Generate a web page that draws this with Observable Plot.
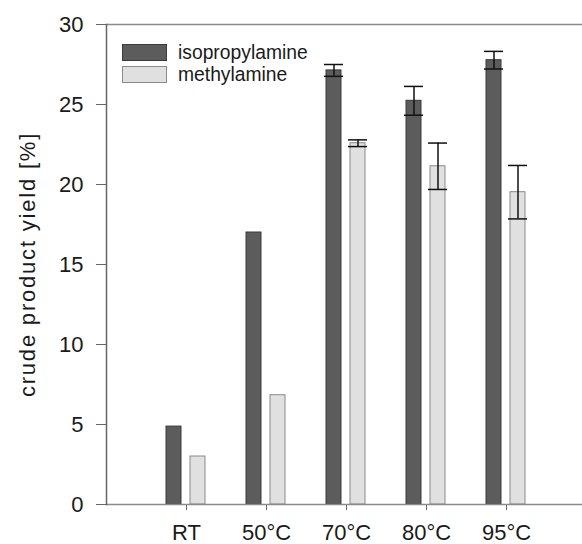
<!DOCTYPE html>
<html><head><meta charset="utf-8">
<script src="https://cdn.jsdelivr.net/npm/d3@7"></script>
<script src="https://cdn.jsdelivr.net/npm/@observablehq/plot@0.6"></script>
<style>
body{margin:0;background:#fff;font-family:"Liberation Sans",Arial,sans-serif;}
#wrap{position:relative;width:582px;height:544px;overflow:hidden;}
.legend{position:absolute;left:122px;top:42px;font-size:19.3px;color:#1a1a1a;line-height:1;}
.row{display:flex;align-items:center;height:21.7px;}
.sw{width:43px;height:15px;border:1px solid #555;margin-right:11px;box-sizing:content-box;}
</style></head><body><div id="wrap"></div>
<script>
const categories = ["RT", "50°C", "70°C", "80°C", "95°C"];
const seriesNames = ["isopropylamine", "methylamine"];
const isoValues = [4.87, 17.0, 27.13, 25.23, 27.77];
const isoErrors = [null, null, 0.37, 0.9, 0.55];
const methylValues = [3.0, 6.83, 22.58, 21.14, 19.52];
const methylErrors = [null, null, 0.21, 1.45, 1.67];
const yTicks = [0, 5, 10, 15, 20, 25, 30];
const yLabel = "crude product yield [%]";
const colors = ["#5c5c5c", "#e0e0e0"];
const strokes = ["#3a3a3a", "#8a8a8a"];

const rows = categories.map((c, i) => ({cat: c, iso: isoValues[i], isoErr: isoErrors[i], methyl: methylValues[i], methylErr: methylErrors[i]}));
const isoErrRows = rows.filter(d => d.isoErr != null).map(d => ({cat: d.cat, lo: d.iso - d.isoErr, hi: d.iso + d.isoErr}));
const methylErrRows = rows.filter(d => d.methylErr != null).map(d => ({cat: d.cat, lo: d.methyl - d.methylErr, hi: d.methyl + d.methylErr}));

const barW = 15, capW = 19, band = 80;
const dxIso = -12.5, dxMet = 11.5;

const plot = Plot.plot({
  width: 582, height: 544,
  marginTop: 24, marginBottom: 40, marginLeft: 106, marginRight: 0,
  style: {fontFamily: "'Liberation Sans', Arial, sans-serif", fontSize: "22px", color: "#1a1a1a", background: "#fff", overflow: "hidden"},
  x: {type: "band", domain: categories, range: [106, 586], paddingInner: 0, paddingOuter: 0.5, label: null},
  y: {domain: [0, 30], label: null},
  marks: [
    Plot.axisY({ticks: yTicks, tickSize: 10, tickPadding: 13, fontSize: 22, stroke: "#666", fill: "#1a1a1a", label: null}),
    Plot.axisX({tickSize: 6, tickPadding: 14, fontSize: 22, stroke: "#666", fill: "#1a1a1a", label: null}),
    Plot.text([yLabel], {text: d => d, frameAnchor: "left", textAnchor: "middle", lineAnchor: "middle", rotate: -90, dx: -79, fontSize: 22, fill: "#1a1a1a"}),
    Plot.barY(rows, {x: "cat", y: "iso", dx: dxIso, insetLeft: (band - barW) / 2, insetRight: (band - barW) / 2, fill: colors[0], stroke: strokes[0], strokeWidth: 1}),
    Plot.barY(rows, {x: "cat", y: "methyl", dx: dxMet, insetLeft: (band - barW) / 2, insetRight: (band - barW) / 2, fill: colors[1], stroke: strokes[1], strokeWidth: 1}),
    Plot.ruleX(isoErrRows, {x: "cat", y1: "lo", y2: "hi", dx: dxIso, stroke: "#111", strokeWidth: 1.5}),
    Plot.tickY(isoErrRows, {x: "cat", y: "lo", dx: dxIso, insetLeft: (band - capW) / 2, insetRight: (band - capW) / 2, stroke: "#111", strokeWidth: 1.5}),
    Plot.tickY(isoErrRows, {x: "cat", y: "hi", dx: dxIso, insetLeft: (band - capW) / 2, insetRight: (band - capW) / 2, stroke: "#111", strokeWidth: 1.5}),
    Plot.ruleX(methylErrRows, {x: "cat", y1: "lo", y2: "hi", dx: dxMet, stroke: "#111", strokeWidth: 1.5}),
    Plot.tickY(methylErrRows, {x: "cat", y: "lo", dx: dxMet, insetLeft: (band - capW) / 2, insetRight: (band - capW) / 2, stroke: "#111", strokeWidth: 1.5}),
    Plot.tickY(methylErrRows, {x: "cat", y: "hi", dx: dxMet, insetLeft: (band - capW) / 2, insetRight: (band - capW) / 2, stroke: "#111", strokeWidth: 1.5}),
    Plot.ruleY([30], {stroke: "#8a8a8a", strokeWidth: 1.5}),
    Plot.ruleY([0], {stroke: "#8a8a8a", strokeWidth: 1.5}),
    Plot.frame({anchor: "left", stroke: "#666", strokeWidth: 1.5})
  ]
});
// letter spacing on the axis title to match the wide original typesetting
d3.select(plot).selectAll("g[aria-label=text] text").style("letter-spacing", "1.8px");

const wrap = document.getElementById("wrap");
wrap.appendChild(plot);
const legend = document.createElement("div");
legend.className = "legend";
seriesNames.forEach((name, i) => {
  const row = document.createElement("div");
  row.className = "row";
  const sw = document.createElement("div");
  sw.className = "sw";
  sw.style.background = colors[i];
  sw.style.borderColor = strokes[i];
  const t = document.createElement("span");
  t.textContent = name;
  row.appendChild(sw); row.appendChild(t);
  legend.appendChild(row);
});
wrap.appendChild(legend);
</script></body></html>
